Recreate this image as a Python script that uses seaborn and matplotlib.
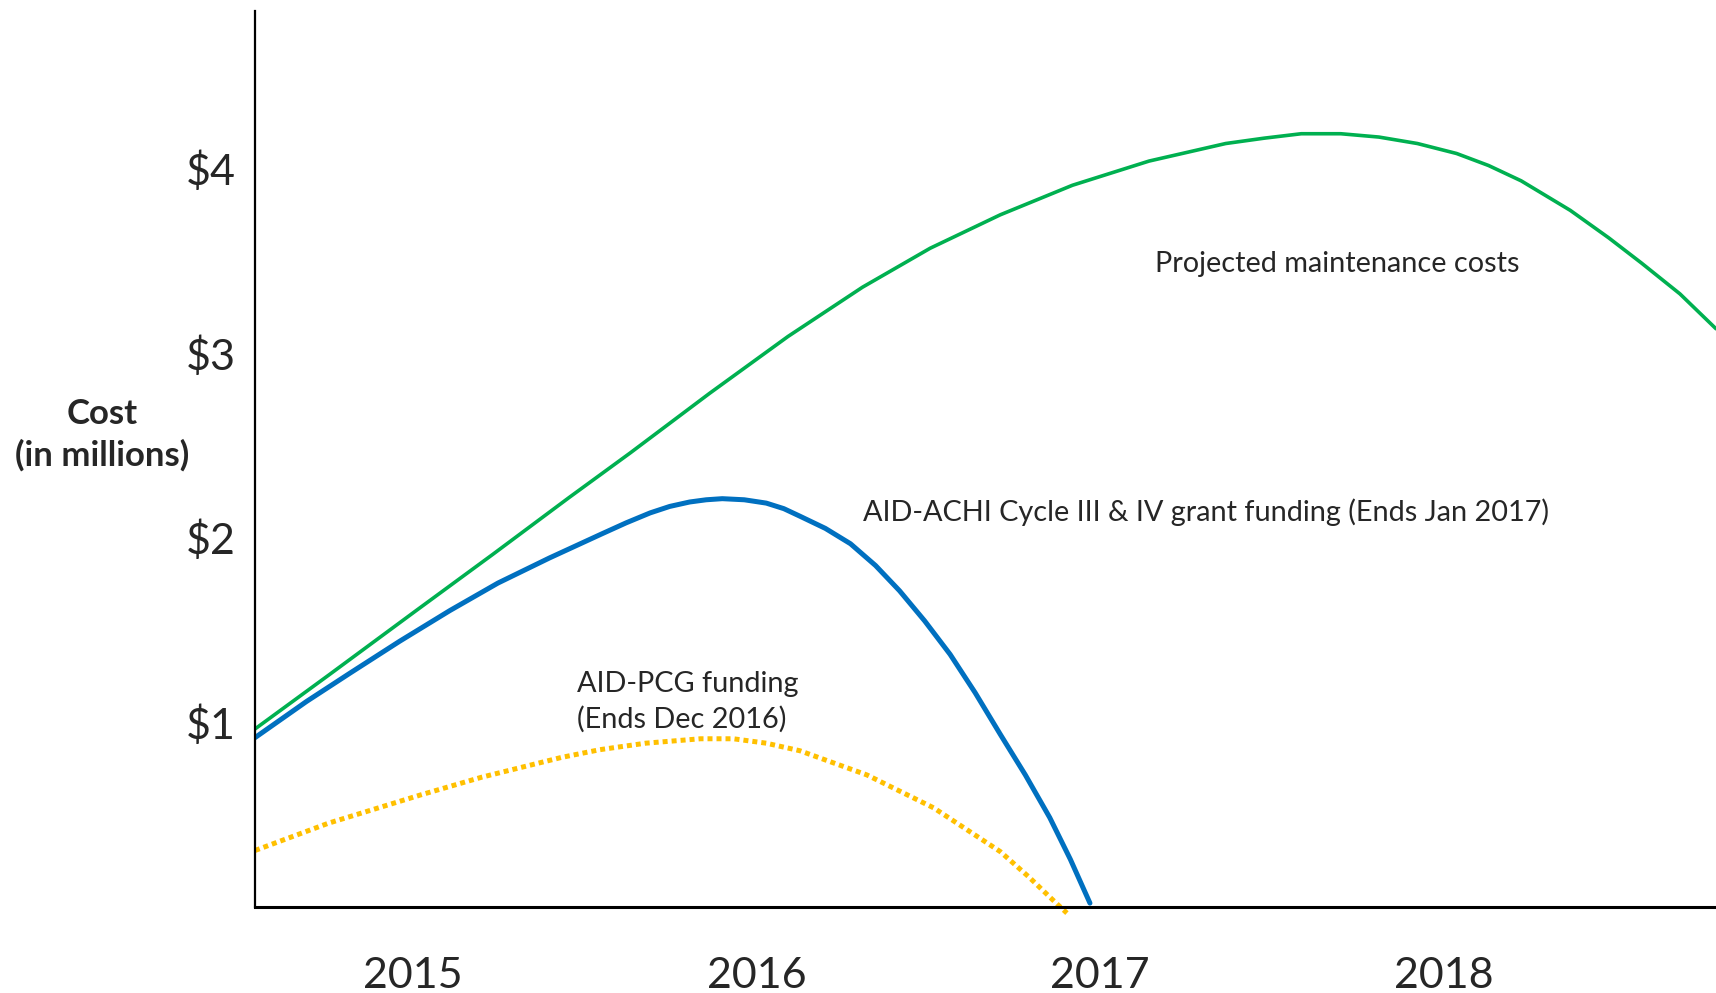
import numpy as np
import pandas as pd
import matplotlib
matplotlib.use("Agg")
import matplotlib.pyplot as plt
import seaborn as sns

# values (year, cost in $ millions)
green_year = [2014.541, 2014.755, 2015.010, 2015.232, 2015.455, 2015.634, 2015.863, 2016.092,
              2016.309, 2016.506, 2016.710, 2016.920, 2017.143, 2017.366, 2017.478, 2017.586,
              2017.701, 2017.812, 2017.924, 2018.038, 2018.131, 2018.226, 2018.369, 2018.481,
              2018.576, 2018.688, 2018.793]
green_cost = [0.964, 1.255, 1.605, 1.908, 2.217, 2.460, 2.780, 3.089,
              3.356, 3.567, 3.748, 3.908, 4.039, 4.134, 4.163, 4.187,
              4.187, 4.169, 4.134, 4.080, 4.015, 3.932, 3.772, 3.623,
              3.487, 3.320, 3.131]

blue_year = [2014.541, 2014.691, 2014.818, 2014.962, 2015.108, 2015.248, 2015.398, 2015.551,
             2015.621, 2015.691, 2015.748, 2015.806, 2015.854, 2015.901, 2015.965, 2016.029,
             2016.080, 2016.127, 2016.201, 2016.274, 2016.347, 2016.417, 2016.490, 2016.564,
             2016.637, 2016.710, 2016.783, 2016.854, 2016.914, 2016.971]
blue_cost = [0.917, 1.113, 1.267, 1.439, 1.605, 1.754, 1.890, 2.021,
             2.080, 2.134, 2.169, 2.193, 2.205, 2.211, 2.205, 2.187,
             2.157, 2.116, 2.050, 1.967, 1.849, 1.712, 1.549, 1.368,
             1.160, 0.935, 0.715, 0.484, 0.258, 0.021]

yellow_year = [2014.541, 2014.755, 2015.025, 2015.201, 2015.433, 2015.545, 2015.678, 2015.838,
               2015.933, 2016.029, 2016.127, 2016.322, 2016.516, 2016.710, 2016.793, 2016.876,
               2016.904]
yellow_cost = [0.306, 0.454, 0.608, 0.703, 0.810, 0.852, 0.887, 0.911,
               0.911, 0.887, 0.846, 0.715, 0.537, 0.300, 0.163, 0.015,
               -0.033]

years = [2015, 2016, 2017, 2018]
year_labels = ["2015", "2016", "2017", "2018"]
cost_ticks = [1, 2, 3, 4]
cost_labels = ["$1", "$2", "$3", "$4"]

sns.set_style("white")
plt.rcParams["font.family"] = ["Lato", "DejaVu Sans"]

green = pd.DataFrame({"year": green_year, "cost": green_cost})
blue = pd.DataFrame({"year": blue_year, "cost": blue_cost})
yellow = pd.DataFrame({"year": yellow_year, "cost": yellow_cost})

fig = plt.figure(figsize=(17.16, 9.93), dpi=100)
ax = fig.add_axes([0.1486, 0.0866, 0.8514, 0.9024])

sns.lineplot(data=green, x="year", y="cost", ax=ax, color="#00B050", linewidth=2.6,
             solid_joinstyle="round")
sns.lineplot(data=blue, x="year", y="cost", ax=ax, color="#0070C0", linewidth=3.6,
             solid_joinstyle="round")
sns.lineplot(data=yellow, x="year", y="cost", ax=ax, color="#FFC000", linewidth=3.6,
             linestyle=(0, (1, 0.8)), clip_on=False)

ax.set_xlim(2014.541, 2018.793)
ax.set_ylim(0, 4.852)

ax.set_xticks(years)
ax.set_xticklabels(year_labels, fontsize=31)
ax.set_yticks(cost_ticks)
ax.set_yticklabels(cost_labels, fontsize=31)
ax.tick_params(axis="x", length=0, pad=36)
ax.tick_params(axis="y", length=0, pad=14)

for side in ["top", "right"]:
    ax.spines[side].set_visible(False)
ax.spines["left"].set_linewidth(1.6)
ax.spines["bottom"].set_linewidth(2.2)
ax.spines["left"].set_color("black")
ax.spines["bottom"].set_color("black")

ax.set_xlabel("")
ax.set_ylabel("Cost\n(in millions)", rotation=0, fontsize=25, fontweight="bold",
              linespacing=1.35, ha="center", va="center")
ax.yaxis.set_label_coords(-0.1047, 0.527)

ax.text(2017.691, 3.481, "Projected maintenance costs", fontsize=20.8, ha="center", va="center")
ax.text(2017.309, 2.136, "AID-ACHI Cycle III & IV grant funding (Ends Jan 2017)", fontsize=20.8,
        ha="center", va="center")
ax.text(2015.478, 1.113, "AID-PCG funding\n(Ends Dec 2016)", fontsize=20.8, ha="left", va="center",
        linespacing=1.4)

fig.savefig("out.png", dpi=100)
